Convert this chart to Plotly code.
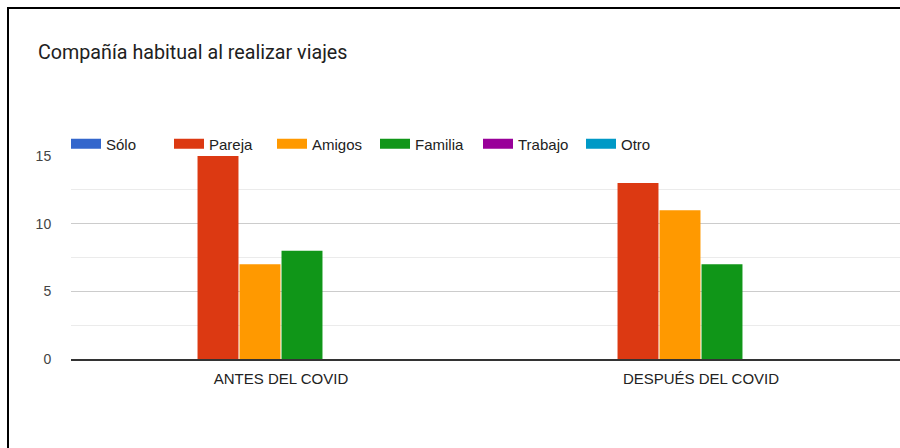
import plotly.graph_objects as go

categories = ["ANTES DEL COVID", "DESPUÉS DEL COVID"]
series_names = ["Sólo", "Pareja", "Amigos", "Familia", "Trabajo", "Otro"]
solo = [0, 0]
pareja = [15, 13]
amigos = [7, 11]
familia = [8, 7]
trabajo = [0, 0]
otro = [0, 0]
y_ticks = [0, 5, 10, 15]

series_values = [solo, pareja, amigos, familia, trabajo, otro]
colors = ["#3366CC", "#DC3912", "#FF9900", "#109618", "#990099", "#0099C6"]

W, H = 900, 448
L, R, T, B = 71, 0, 156, 89
pw, ph = W - L - R, H - T - B
cat_px = 420  # pixel distance between the two category centres
first_cat_x = 281

fig = go.Figure()
for name, vals, col in zip(series_names, series_values, colors):
    fig.add_trace(go.Bar(
        x=categories, y=vals, name=name, legendgroup=name, showlegend=False,
        marker=dict(color=col, line=dict(width=0)),
        hovertemplate=name + ": %{y}<extra></extra>",
    ))
    # wide rectangular legend swatch, Google-Charts style
    fig.add_trace(go.Scatter(
        x=[None], y=[None], name=name, legendgroup=name, mode="lines",
        line=dict(color=col, width=10), hoverinfo="skip",
    ))

# outer card border (only top-left visible in the crop)
fig.add_shape(type="rect", xref="paper", yref="paper",
              x0=(8 - L) / pw, x1=1.3, y0=-1.0, y1=(H - B - 8) / ph,
              line=dict(color="#000000", width=2), layer="above")

fig.update_layout(
    width=W, height=H,
    margin=dict(l=L, r=R, t=T, b=B, pad=0),
    paper_bgcolor="white", plot_bgcolor="white",
    barmode="group", bargap=0.4, bargroupgap=0.025,
    title=dict(text="Compañía habitual al realizar viajes",
               x=38 / W, xanchor="left", xref="container",
               y=1 - 52 / H, yanchor="middle", yref="container",
               font=dict(family="Roboto", size=19.7, color="#212121")),
    font=dict(family="Liberation Sans, Arial", size=15, color="#222222"),
    legend=dict(orientation="h", x=-5 / pw, xanchor="left",
                y=(H - B - 144) / ph, yanchor="middle",
                entrywidth=58, entrywidthmode="pixels",
                font=dict(family="Liberation Sans, Arial", size=15, color="#222222"),
                traceorder="normal", itemclick=False, bgcolor="rgba(0,0,0,0)"),
    showlegend=True,
    xaxis=dict(range=[-0.5, (W - first_cat_x) / cat_px], showgrid=False,
               ticks="outside", ticklen=5, tickcolor="rgba(0,0,0,0)",
               tickfont=dict(size=15, color="#222222"),
               showline=True, linecolor="#333333", linewidth=1.5,
               layer="above traces", zeroline=False),
    yaxis=dict(range=[0, 15], tickvals=y_ticks, showgrid=True, gridcolor="#cccccc", gridwidth=1,
               minor=dict(dtick=2.5, showgrid=True, gridcolor="#ebebeb", gridwidth=1),
               ticks="outside", ticklen=16, tickcolor="rgba(0,0,0,0)",
               tickfont=dict(size=14, color="#444444"),
               zeroline=False, showline=False),
)

fig.write_html("out.html", config={"displayModeBar": False},
               post_script="document.body.style.margin='0';")
